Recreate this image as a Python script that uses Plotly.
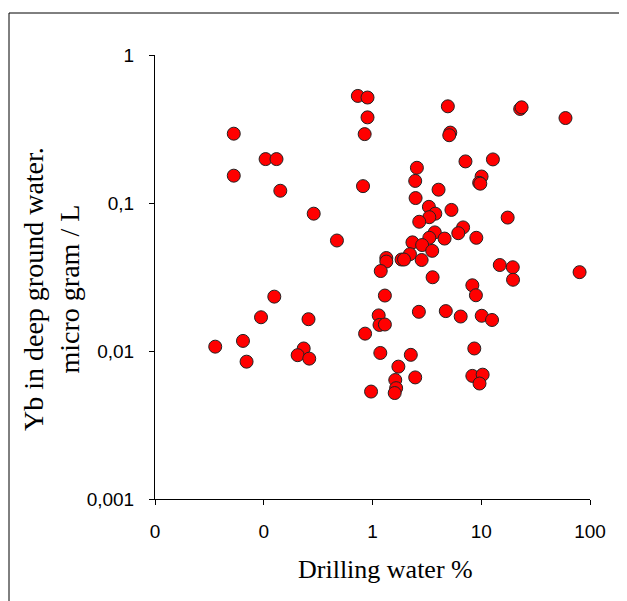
import plotly.graph_objects as go

drilling_water = [0.733, 0.90, 4.93, 22.8, 23.5, 59.5, 0.90, 0.053, 0.847, 5.19,
                  5.08, 0.104, 0.131, 12.8, 7.16, 2.56, 0.053, 10.07, 2.47, 9.57,
                  9.8, 0.818, 0.142, 4.05, 2.49, 5.32, 3.30, 3.78, 0.288, 3.33,
                  17.5, 2.69, 6.81, 6.15, 3.74, 3.33, 4.60, 9.01, 0.471, 2.33,
                  2.86, 3.54, 2.21, 1.34, 1.34, 1.85, 1.95, 2.83, 14.8, 19.5,
                  80.2, 1.19, 3.57, 19.6, 8.28, 8.93, 1.30, 0.125, 2.67, 4.72,
                  6.47, 10.1, 12.56, 0.0944, 0.258, 1.14, 1.16, 1.30, 0.855, 0.0358,
                  0.0644, 0.0695, 0.233, 0.205, 0.262, 1.18, 2.25, 8.63, 1.73, 2.47,
                  8.28, 10.3, 9.64, 1.62, 1.65, 1.60, 0.97]

yb = [0.529, 0.516, 0.45, 0.432, 0.443, 0.375, 0.379, 0.294, 0.292, 0.299,
      0.287, 0.198, 0.198, 0.197, 0.191, 0.173, 0.153, 0.151, 0.141, 0.137,
      0.135, 0.130, 0.121, 0.123, 0.108, 0.0898, 0.0942, 0.0847, 0.0847, 0.0802,
      0.0797, 0.0747, 0.0684, 0.0625, 0.0633, 0.0582, 0.0575, 0.0582, 0.0558, 0.0542,
      0.052, 0.0475, 0.0451, 0.0425, 0.0402, 0.0415, 0.0415, 0.0412, 0.0381, 0.0368,
      0.0341, 0.0347, 0.0315, 0.0303, 0.0278, 0.0238, 0.0237, 0.0233, 0.0184, 0.0186,
      0.0171, 0.0173, 0.0162, 0.0169, 0.0164, 0.0174, 0.0150, 0.0151, 0.0131, 0.0107,
      0.0117, 0.00847, 0.0104, 0.00937, 0.00888, 0.0097, 0.00942, 0.0104, 0.00784, 0.00663,
      0.00679, 0.00692, 0.00603, 0.00637, 0.00561, 0.0052, 0.00532]

x_tickvals = [0.01, 0.1, 1, 10, 100]
x_ticktext = ["0", "0", "1", "10", "100"]
y_tickvals = [0.001, 0.01, 0.1, 1]
y_ticktext = ["0,001", "0,01", "0,1", "1"]

assert len(drilling_water) == len(yb)

fig = go.Figure(go.Scatter(
    x=drilling_water, y=yb, mode="markers",
    marker=dict(size=13, color="#FF0000", line=dict(color="#222222", width=1)),
    hoverinfo="x+y",
))

OFF = 8  # page body margin
W, H = 627 - OFF, 601 - OFF
# plot box in screenshot pixels
PL, PR, PT, PB = 155, 590, 55, 499
L, T = PL - OFF, PT - OFF
R = W - (PR - OFF)
B = H - (PB - OFF)
pw, ph = PR - PL, PB - PT

def px(xp):
    return (xp - PL) / pw

def py(yp):
    return (PB - yp) / ph

serif = "Liberation Serif, Times New Roman, serif"

fig.update_layout(
    width=W, height=H,
    margin=dict(l=L, r=R, t=T, b=B),
    paper_bgcolor="white", plot_bgcolor="white",
    showlegend=False,
    font=dict(family="Liberation Sans, Arial, sans-serif", size=19, color="black"),
    xaxis=dict(
        type="log", range=[-2, 2],
        tickvals=x_tickvals, ticktext=x_ticktext,
        showgrid=False, zeroline=False,
        showline=True, linecolor="black", linewidth=1,
        ticks="outside", ticklen=5, tickcolor="black",
        ticklabelstandoff=10,
    ),
    yaxis=dict(
        type="log", range=[-3, 0],
        tickvals=y_tickvals, ticktext=y_ticktext,
        showgrid=False, zeroline=False,
        showline=True, linecolor="black", linewidth=1,
        ticks="outside", ticklen=5, tickcolor="black",
        ticklabelstandoff=11,
    ),
    annotations=[
        dict(text="Yb in deep ground water.<br>micro gram / L",
             xref="paper", yref="paper", x=px(51), y=py(289),
             xanchor="center", yanchor="middle", textangle=-90, showarrow=False,
             font=dict(family=serif, size=28)),
        dict(text="Drilling water %",
             xref="paper", yref="paper", x=px(385), y=py(569),
             xanchor="center", yanchor="middle", showarrow=False,
             font=dict(family=serif, size=26)),
    ],
    shapes=[
        dict(type="rect", xref="paper", yref="paper",
             x0=px(9), x1=px(640), y0=py(620), y1=py(13),
             line=dict(color="black", width=1), fillcolor="rgba(0,0,0,0)", layer="below"),
    ],
)

fig.write_html("out.html")
